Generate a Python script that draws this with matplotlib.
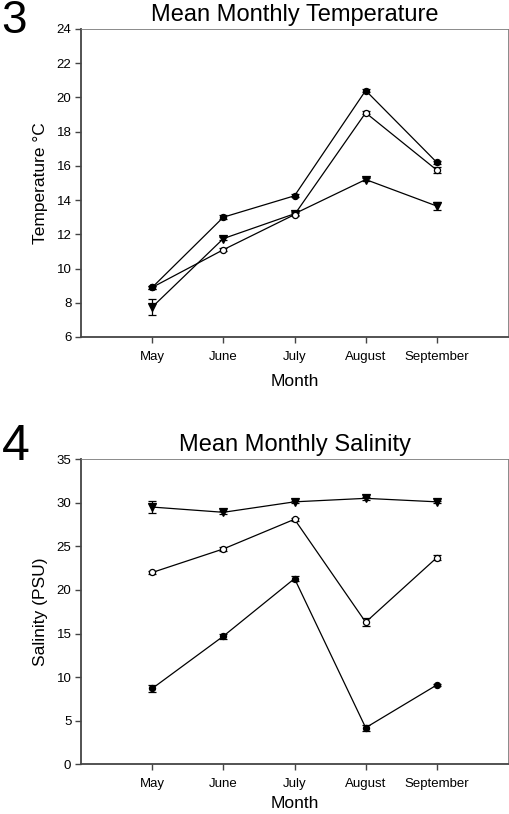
import matplotlib
matplotlib.use('Agg')
import matplotlib.pyplot as plt
import numpy as np

plt.rcParams['font.family'] = ['Liberation Sans', 'DejaVu Sans']

# ─── Data ───
months = ["May", "June", "July", "August", "September"]

temp_filled = [8.9, 13.0, 14.25, 20.4, 16.2]
temp_open = [8.9, 11.1, 13.15, 19.1, 15.75]
temp_tri = [7.75, 11.75, 13.2, 15.2, 13.65]
temp_filled_err = [0.1, 0.1, 0.1, 0.1, 0.1]
temp_open_err = [0.1, 0.1, 0.1, 0.1, 0.18]
temp_tri_err = [0.45, 0.1, 0.1, 0.1, 0.25]

sal_filled = [8.7, 14.7, 21.3, 4.2, 9.1]
sal_open = [22.0, 24.7, 28.1, 16.3, 23.7]
sal_tri = [29.5, 28.9, 30.1, 30.5, 30.1]
sal_filled_err = [0.35, 0.3, 0.3, 0.35, 0.15]
sal_open_err = [0.15, 0.2, 0.2, 0.45, 0.3]
sal_tri_err = [0.65, 0.2, 0.15, 0.15, 0.15]

x = np.arange(1, len(months) + 1)

fig = plt.figure(figsize=(5.1, 8.14), dpi=100)
ax1 = fig.add_axes([0.159, 0.586, 0.837, 0.3785])
ax2 = fig.add_axes([0.159, 0.061, 0.837, 0.375])


def draw_series(ax, y, err, marker, face):
    ax.errorbar(x, y, yerr=err, color="black", lw=0.9, marker=marker,
                markersize=5.2 if marker == "v" else 4.4, markerfacecolor=face,
                markeredgecolor="black", markeredgewidth=0.9,
                elinewidth=0.9, capsize=3, capthick=0.9, zorder=3)


def style_axes(ax, pad):
    ax.set_xlim(0, 6)
    ax.set_xticks(x)
    ax.set_xticklabels(months, fontsize=9.5)
    ax.tick_params(axis="both", direction="out", length=4, width=1, color="#444444",
                   labelsize=9.5, pad=3)
    ax.tick_params(axis="x", pad=6)
    ax.spines["left"].set_linewidth(1.3)
    ax.spines["bottom"].set_linewidth(1.3)
    ax.spines["left"].set_color("#444444")
    ax.spines["bottom"].set_color("#444444")
    ax.spines["top"].set_linewidth(0.6)
    ax.spines["right"].set_linewidth(0.6)
    ax.spines["top"].set_color("#777777")
    ax.spines["right"].set_color("#777777")
    ax.set_xlabel("Month", fontsize=12.5, labelpad=pad)


# ─── Temperature ───
draw_series(ax1, temp_tri, temp_tri_err, "v", "black")
draw_series(ax1, temp_open, temp_open_err, "o", "white")
draw_series(ax1, temp_filled, temp_filled_err, "o", "black")
ax1.set_ylim(6, 24)
ax1.set_yticks(np.arange(6, 25, 2))
style_axes(ax1, 8)
ax1.set_ylabel("Temperature \u00b0C", fontsize=12.5, labelpad=6)
ax1.set_title("Mean Monthly Temperature", fontsize=17, pad=6)
fig.text(0.003, 0.974, "3", fontsize=33, ha="left", va="center")

# ─── Salinity ───
draw_series(ax2, sal_tri, sal_tri_err, "v", "black")
draw_series(ax2, sal_open, sal_open_err, "o", "white")
draw_series(ax2, sal_filled, sal_filled_err, "o", "black")
ax2.set_ylim(0, 35)
ax2.set_yticks(np.arange(0, 36, 5))
style_axes(ax2, 4)
ax2.set_ylabel("Salinity (PSU)", fontsize=12.5, labelpad=6)
ax2.set_title("Mean Monthly Salinity", fontsize=17, pad=6)
fig.text(0.003, 0.451, "4", fontsize=36, ha="left", va="center")

fig.savefig("out.png", dpi=100, facecolor="white")
plt.close(fig)
